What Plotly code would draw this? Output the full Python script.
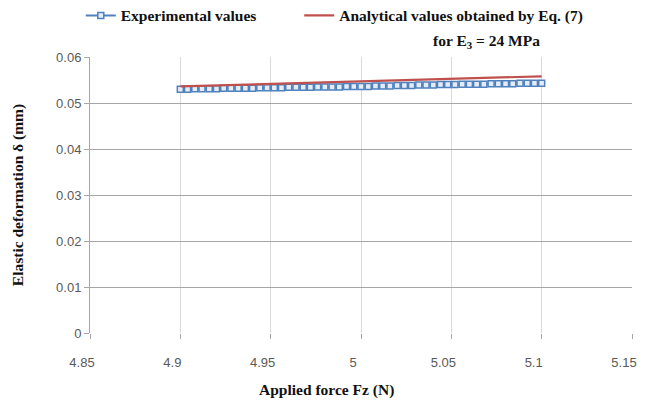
import plotly.graph_objects as go

force_exp = [4.900, 4.904, 4.908, 4.912, 4.916, 4.920, 4.924, 4.928, 4.932, 4.936, 4.940,
             4.944, 4.948, 4.952, 4.956, 4.960, 4.964, 4.968, 4.972, 4.976, 4.980,
             4.984, 4.988, 4.992, 4.996, 5.000, 5.004, 5.008, 5.012, 5.016, 5.020,
             5.024, 5.028, 5.032, 5.036, 5.040, 5.044, 5.048, 5.052, 5.056, 5.060,
             5.064, 5.068, 5.072, 5.076, 5.080, 5.084, 5.088, 5.092, 5.096, 5.100]
defo_exp = [0.0530, 0.0530, 0.0531, 0.0531, 0.0531, 0.0531, 0.0532, 0.0532, 0.0532, 0.0532, 0.0532,
            0.0533, 0.0533, 0.0533, 0.0533, 0.0534, 0.0534, 0.0534, 0.0534, 0.0535, 0.0535,
            0.0535, 0.0535, 0.0536, 0.0536, 0.0536, 0.0536, 0.0537, 0.0537, 0.0537, 0.0538,
            0.0538, 0.0538, 0.0539, 0.0539, 0.0539, 0.0540, 0.0540, 0.0540, 0.0541, 0.0541,
            0.0541, 0.0541, 0.0542, 0.0542, 0.0542, 0.0542, 0.0543, 0.0543, 0.0543, 0.0543]

force_ana = [4.90, 4.95, 5.00, 5.05, 5.10]
defo_ana = [0.05360, 0.05415, 0.05470, 0.05525, 0.05580]

x_ticks = [4.85, 4.9, 4.95, 5.0, 5.05, 5.1, 5.15]
x_ticklabels = ["4.85", "4.9", "4.95", "5", "5.05", "5.1", "5.15"]
y_ticks = [0, 0.01, 0.02, 0.03, 0.04, 0.05, 0.06]
y_ticklabels = ["0", "0.01", "0.02", "0.03", "0.04", "0.05", "0.06"]

serif_bold = dict(family="Liberation Serif", size=15.5, color="#111111")
tick_font = dict(family="Liberation Sans", size=13, color="#595959")

fig = go.Figure()
fig.add_trace(go.Scatter(
    x=force_exp, y=defo_exp, mode="lines+markers",
    name="<b>Experimental values</b>", legend="legend",
    line=dict(color="#4F81BD", width=2),
    marker=dict(symbol="square", size=6, color="#E4ECF7",
                line=dict(color="#4F81BD", width=1.5)),
))
fig.add_trace(go.Scatter(
    x=force_ana, y=defo_ana, mode="lines",
    name="<b>Analytical values obtained by Eq. (7)</b>", legend="legend2",
    line=dict(color="#C0504D", width=2.2),
))

fig.update_layout(
    width=638, height=397,
    margin=dict(l=82, r=14, t=49, b=72, autoexpand=False),
    paper_bgcolor="white", plot_bgcolor="white",
    showlegend=True,
    legend=dict(orientation="h", x=-0.017, y=1.149, xanchor="left", yanchor="middle",
                font=serif_bold, itemwidth=30, bgcolor="rgba(0,0,0,0)"),
    legend2=dict(orientation="h", x=0.386, y=1.149, xanchor="left", yanchor="middle",
                 font=serif_bold, itemwidth=30, bgcolor="rgba(0,0,0,0)"),
    annotations=[
        dict(text="<b>for E<sub>3</sub> = 24 MPa</b>", x=0.732, y=1.055,
             xref="paper", yref="paper", showarrow=False,
             font=serif_bold, xanchor="center", yanchor="middle"),
        dict(text="<b>Applied force Fz (N)</b>", x=0.437, y=-0.205,
             xref="paper", yref="paper", showarrow=False,
             font=serif_bold, xanchor="center", yanchor="middle"),
    ],
)
fig.update_xaxes(
    range=[4.85, 5.15], tickvals=x_ticks, ticktext=x_ticklabels,
    showgrid=True, gridcolor="#D9D9D9", gridwidth=1,
    ticks="outside", ticklen=5, tickcolor="#A6A6A6",
    showline=False, zeroline=False, tickfont=tick_font, ticklabelstandoff=12,
    ticklabelshift=-8, ticklabeloverflow="allow",
)
fig.update_yaxes(
    range=[0, 0.06], tickvals=y_ticks, ticktext=y_ticklabels,
    showgrid=True, gridcolor="#A6A6A6", gridwidth=1,
    ticks="outside", ticklen=5, tickcolor="#A6A6A6",
    showline=True, linecolor="#A6A6A6", linewidth=1,
    zeroline=False, tickfont=tick_font,
    title=dict(text="<b>Elastic deformation δ (mm)</b>", font=serif_bold, standoff=28),
)

fig.write_html("out.html")
